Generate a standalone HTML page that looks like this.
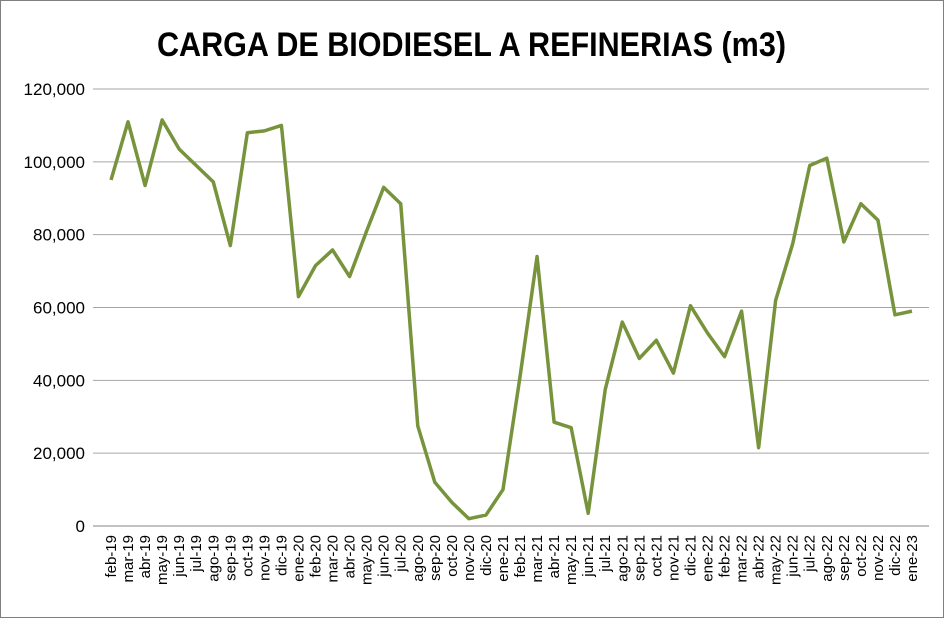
<!DOCTYPE html>
<html><head><meta charset="utf-8"><style>
body{margin:0;background:#fff}
svg{display:block;font-family:"Liberation Sans",sans-serif}
</style></head><body>
<svg width="944" height="618">
<rect x="0.5" y="0.5" width="943" height="617" fill="#fff" stroke="#7f7f7f"/>
<text x="157" y="56" textLength="629" lengthAdjust="spacingAndGlyphs" font-size="34" font-weight="bold">CARGA DE BIODIESEL A REFINERIAS (m3)</text>
<g id="grid"></g><g id="yl"></g><g id="xl"></g><g id="ln"></g>
</svg>
<script>
const categories=["feb-19","mar-19","abr-19","may-19","jun-19","jul-19","ago-19","sep-19","oct-19","nov-19","dic-19","ene-20","feb-20","mar-20","abr-20","may-20","jun-20","jul-20","ago-20","sep-20","oct-20","nov-20","dic-20","ene-21","feb-21","mar-21","abr-21","may-21","jun-21","jul-21","ago-21","sep-21","oct-21","nov-21","dic-21","ene-22","feb-22","mar-22","abr-22","may-22","jun-22","jul-22","ago-22","sep-22","oct-22","nov-22","dic-22","ene-23"];
const values=[95000,111000,93500,111500,103500,99000,94500,77000,108000,108500,110000,63000,71500,75800,68500,81000,93000,88500,27500,12000,6500,2000,3000,10000,41000,74000,28500,27000,3500,37500,56000,46000,51000,42000,60500,53000,46500,59000,21500,62000,77500,99000,101000,78000,88500,84000,58000,59000];
const yTicks=[0,20000,40000,60000,80000,100000,120000];
const NS="http://www.w3.org/2000/svg";
const x0=93,x1=929,yb=526,yt=89,ymax=120000;
const xFirst=111,xLast=912;
const xs=i=>xFirst+(xLast-xFirst)*i/(categories.length-1);
const ys=v=>yb-(v/ymax)*(yb-yt);
function mk(t,a,p){const e=document.createElementNS(NS,t);for(const k in a)e.setAttribute(k,a[k]);p.appendChild(e);return e;}
const g=document.getElementById('grid'),yl=document.getElementById('yl'),xl=document.getElementById('xl'),ln=document.getElementById('ln');
yTicks.forEach(v=>{
 const l=mk('line',{x1:x0,x2:x1,y1:ys(v),y2:ys(v),stroke:v===0?'#868686':'#a6a6a6','stroke-width':1},g);
 
 
 const t=mk('text',{x:85,y:ys(v)+6,'text-anchor':'end','font-size':17},yl);
 t.textContent=v.toLocaleString('en-US');
 
 
});
categories.forEach((c,i)=>{
 const t=mk('text',{transform:`translate(${xs(i)+5},535) rotate(-90)`,'text-anchor':'end','font-size':15},xl);
 t.textContent=c;
 
 
});
const p=mk('polyline',{points:values.map((v,i)=>xs(i)+','+ys(v)).join(' '),fill:'none',stroke:'#77933c','stroke-width':3.5,'stroke-linejoin':'round'},ln);


</script>
</body></html>
